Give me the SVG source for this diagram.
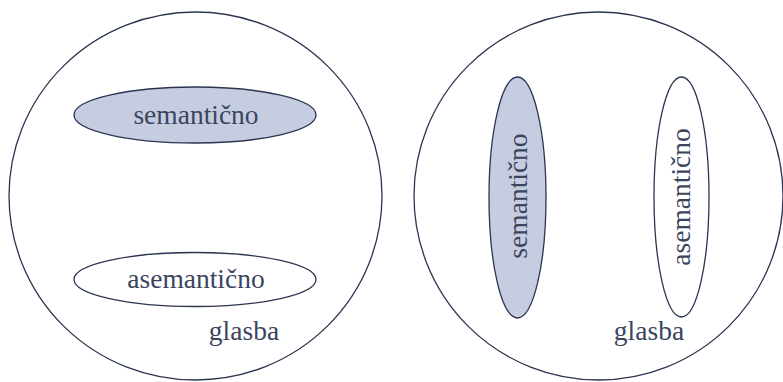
<svg xmlns="http://www.w3.org/2000/svg" width="783" height="382" viewBox="0 0 783 382">
<style>
.outer{fill:none;stroke:#2b3550;stroke-width:1.3}
.sem{fill:#c6cde0;stroke:#2b3550;stroke-width:1.3}
.asem{fill:#ffffff;stroke:#2b3550;stroke-width:1.3}
.t{font-family:'Liberation Serif','Times New Roman','DejaVu Serif',serif;font-size:27.5px;fill:#3a4560;text-anchor:middle}
</style>
<rect width="783" height="382" fill="#ffffff"/>
<g id="left-glasba">
<ellipse class="outer" cx="195.5" cy="196" rx="186.5" ry="184"/>
<text class="t" x="244" y="340">glasba</text>
</g>
<g id="left-semanticno">
<ellipse class="sem" cx="195" cy="115" rx="121" ry="28"/>
<text class="t" x="196" y="124">semantično</text>
</g>
<g id="left-asemanticno">
<ellipse class="asem" cx="195" cy="279.5" rx="121" ry="27"/>
<text class="t" x="196" y="288">asemantično</text>
</g>
<g id="right-glasba">
<ellipse class="outer" cx="598.5" cy="196" rx="184.5" ry="184"/>
<text class="t" x="649" y="340">glasba</text>
</g>
<g id="right-semanticno">
<ellipse class="sem" cx="517.5" cy="197.5" rx="28.5" ry="120.5"/>
<text class="t" transform="translate(527,196) rotate(-90)" x="0" y="0">semantično</text>
</g>
<g id="right-asemanticno">
<ellipse class="asem" cx="681.5" cy="197" rx="27.5" ry="120"/>
<text class="t" transform="translate(690,197) rotate(-90)" x="0" y="0">asemantično</text>
</g>
<g id="connectors"></g>
</svg>
